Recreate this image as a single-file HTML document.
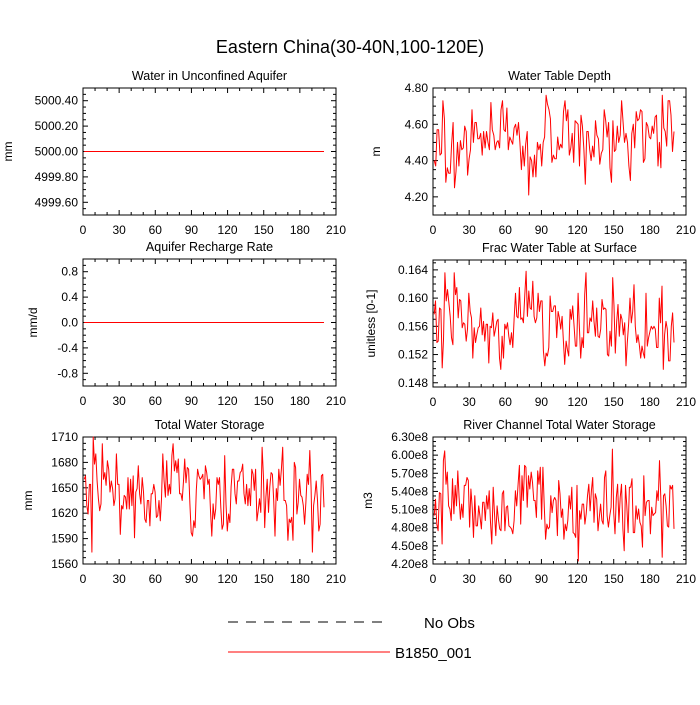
<!DOCTYPE html>
<html><head><meta charset="utf-8"><style>
body{margin:0;background:#fff;}
svg text{font-family:"Liberation Sans",sans-serif;fill:#000;}
</style></head><body>
<svg id="chart" width="700" height="700" viewBox="0 0 700 700" xmlns="http://www.w3.org/2000/svg">
<rect width="700" height="700" fill="#fff"/>
<text x="350" y="53" text-anchor="middle" font-size="18">Eastern China(30-40N,100-120E)</text>
<g>
<line x1="228" y1="622" x2="385" y2="622" stroke="#000" stroke-width="1" stroke-dasharray="10,8"/>
<text x="424" y="628" font-size="15">No Obs</text>
<line x1="228" y1="652" x2="390" y2="652" stroke="#f00" stroke-width="1"/>
<text x="395" y="658" font-size="15">B1850_001</text>
</g>
</svg>
<script>
const xTicks = [0,30,60,90,120,150,180,210];
const flatYears = [1,10,20,30,40,50,60,70,80,90,100,110,120,130,140,150,160,170,180,190,200];
const aquiferValues = [5000,5000,5000,5000,5000,5000,5000,5000,5000,5000,5000,5000,5000,5000,5000,5000,5000,5000,5000,5000,5000];
const rechargeValues = [0,0,0,0,0,0,0,0,0,0,0,0,0,0,0,0,0,0,0,0,0];
const wtdValues = [4.40,4.37,4.57,4.57,4.43,4.44,4.73,4.63,4.28,4.36,4.33,4.33,4.49,4.61,4.25,4.34,4.50,4.37,4.51,4.46,4.47,4.59,4.56,4.32,4.41,4.46,4.68,4.50,4.61,4.61,4.52,4.52,4.55,4.43,4.56,4.47,4.56,4.50,4.46,4.72,4.57,4.54,4.46,4.50,4.51,4.47,4.68,4.73,4.57,4.56,4.69,4.46,4.53,4.51,4.49,4.58,4.60,4.54,4.61,4.50,4.35,4.48,4.37,4.49,4.56,4.21,4.42,4.40,4.31,4.43,4.31,4.50,4.46,4.49,4.37,4.50,4.53,4.76,4.71,4.68,4.63,4.39,4.43,4.41,4.41,4.53,4.46,4.49,4.47,4.67,4.73,4.62,4.68,4.43,4.47,4.55,4.39,4.62,4.61,4.60,4.37,4.65,4.59,4.46,4.27,4.56,4.56,4.46,4.40,4.48,4.42,4.62,4.54,4.52,4.38,4.44,4.46,4.68,4.62,4.53,4.61,4.36,4.28,4.62,4.45,4.46,4.59,4.50,4.54,4.73,4.61,4.50,4.55,4.50,4.37,4.29,4.55,4.60,4.47,4.67,4.62,4.63,4.68,4.67,4.39,4.41,4.61,4.59,4.53,4.52,4.59,4.55,4.64,4.65,4.37,4.50,4.36,4.76,4.58,4.56,4.48,4.73,4.73,4.65,4.45,4.56];
const fracValues = [0.1577,0.1596,0.1537,0.1539,0.1586,0.1584,0.1501,0.1541,0.1636,0.1596,0.1612,0.1593,0.1574,0.1544,0.1534,0.1636,0.1605,0.1615,0.1572,0.1598,0.1596,0.1558,0.1565,0.1563,0.1539,0.1556,0.1607,0.1581,0.1572,0.1515,0.1558,0.1537,0.1548,0.1558,0.1560,0.1586,0.1548,0.1567,0.1539,0.1563,0.1563,0.1508,0.1560,0.1558,0.1579,0.1546,0.1556,0.1567,0.1570,0.1515,0.1499,0.1546,0.1515,0.1563,0.1556,0.1565,0.1546,0.1534,0.1551,0.1530,0.1570,0.1607,0.1574,0.1572,0.1615,0.1570,0.1572,0.1565,0.1605,0.1638,0.1574,0.1610,0.1586,0.1584,0.1624,0.1574,0.1565,0.1572,0.1607,0.1581,0.1596,0.1596,0.1525,0.1504,0.1522,0.1518,0.1530,0.1603,0.1581,0.1581,0.1589,0.1589,0.1544,0.1581,0.1572,0.1556,0.1574,0.1539,0.1506,0.1539,0.1527,0.1518,0.1584,0.1570,0.1589,0.1560,0.1532,0.1532,0.1607,0.1558,0.1515,0.1544,0.1530,0.1605,0.1636,0.1551,0.1551,0.1572,0.1567,0.1596,0.1567,0.1546,0.1586,0.1546,0.1544,0.1556,0.1598,0.1584,0.1586,0.1584,0.1520,0.1518,0.1553,0.1532,0.1629,0.1589,0.1522,0.1567,0.1591,0.1546,0.1577,0.1570,0.1548,0.1565,0.1504,0.1537,0.1565,0.1600,0.1565,0.1581,0.1619,0.1560,0.1537,0.1548,0.1534,0.1515,0.1532,0.1522,0.1515,0.1607,0.1532,0.1544,0.1553,0.1560,0.1556,0.1560,0.1556,0.1530,0.1530,0.1600,0.1565,0.1617,0.1499,0.1548,0.1567,0.1556,0.1511,0.1511,0.1560,0.1579,0.1537];
const twsValues = [1660,1664,1629,1619,1654,1654,1574,1710,1678,1690,1658,1637,1623,1631,1702,1660,1668,1653,1682,1672,1645,1658,1649,1629,1637,1690,1654,1654,1595,1629,1625,1641,1639,1625,1662,1625,1660,1629,1664,1591,1645,1649,1676,1643,1631,1662,1645,1613,1609,1635,1635,1605,1643,1643,1654,1645,1615,1617,1635,1611,1637,1690,1658,1639,1682,1641,1654,1643,1688,1702,1670,1682,1668,1684,1643,1643,1635,1658,1684,1656,1674,1672,1631,1597,1593,1611,1603,1647,1672,1664,1660,1662,1666,1637,1676,1668,1654,1660,1623,1593,1631,1613,1625,1662,1654,1662,1627,1601,1607,1688,1631,1599,1619,1609,1651,1672,1672,1643,1631,1658,1658,1668,1670,1678,1643,1631,1654,1629,1649,1629,1672,1666,1647,1672,1611,1623,1637,1621,1698,1664,1603,1639,1660,1621,1651,1668,1666,1635,1593,1649,1635,1672,1653,1672,1698,1635,1635,1629,1588,1613,1609,1615,1588,1680,1674,1619,1633,1660,1641,1639,1629,1607,1633,1666,1654,1694,1649,1574,1629,1641,1658,1635,1599,1607,1664,1666,1627];
const riverValues = [5.00,5.27,4.86,4.75,5.38,5.36,4.53,5.91,6.07,5.52,5.72,5.16,5.11,4.92,5.61,5.03,5.50,5.16,5.74,5.30,4.94,5.19,4.97,5.50,5.50,5.63,5.58,4.81,5.44,5.14,4.64,5.33,4.83,4.83,5.16,4.97,4.78,5.22,5.22,4.92,5.33,5.11,5.41,4.89,4.53,5.47,5.03,4.67,5.16,4.94,4.78,4.75,5.36,5.41,4.75,5.14,5.16,4.83,4.81,4.78,4.70,4.92,5.41,5.16,5.52,5.83,4.86,5.66,5.25,5.83,5.80,5.14,5.66,5.44,5.72,5.55,5.25,5.25,4.97,5.74,5.52,5.80,4.94,5.80,5.14,4.61,4.86,4.78,4.81,5.33,5.05,5.25,5.30,5.25,4.67,5.58,5.36,4.97,5.11,4.61,4.86,4.75,4.92,5.33,5.11,5.47,4.72,4.70,4.64,5.50,4.25,5.08,4.94,5.19,5.19,4.86,5.03,5.33,5.52,5.08,5.41,5.63,4.89,5.36,5.27,4.75,4.97,5.19,4.92,4.86,5.63,5.74,5.00,4.81,5.00,5.14,6.10,5.05,4.70,5.30,5.52,4.89,5.30,5.52,4.78,4.42,5.50,5.16,4.72,5.47,5.47,5.61,4.72,4.72,5.16,4.94,5.11,4.89,4.83,4.48,5.66,5.00,5.22,5.25,5.25,4.70,5.14,5.00,5.03,5.05,5.41,5.25,5.91,5.25,4.31,5.33,5.36,5.16,4.83,4.81,5.50,5.44,5.50,4.78];
const aquiferTicks = [4999.6,4999.8,5000.0,5000.2,5000.4];
const wtdTicks = [4.2,4.4,4.6,4.8];
const rechargeTicks = [-0.8,-0.4,0.0,0.4,0.8];
const fracTicks = [0.148,0.152,0.156,0.160,0.164];
const twsTicks = [1560,1590,1620,1650,1680,1710];
const riverTicks = [4.2,4.5,4.8,5.1,5.4,5.7,6.0,6.3];

const NS = 'http://www.w3.org/2000/svg';
const svg = document.getElementById('chart');
function mk(tag, attrs, parent){const e=document.createElementNS(NS,tag);for(const k in attrs)e.setAttribute(k,attrs[k]);(parent||svg).appendChild(e);return e;}
function evenYears(n){const a=[];for(let i=0;i<n;i++)a.push(1+i*199/(n-1));return a;}

function panel(cfg){
  const g=mk('g',{});
  
  
  const L=cfg.x, T=cfg.y, W=253, H=127;
  const sx=v=>L+v/210*W;
  const sy=v=>T+H-(v-cfg.min)/(cfg.max-cfg.min)*H;
  // x ticks
  for(let i=0;i<xTicks.length;i++){
    const v=xTicks[i], x=sx(v);
    mk('line',{x1:x,y1:T+H,x2:x,y2:T+H-5,stroke:'#000'},g);
    mk('line',{x1:x,y1:T,x2:x,y2:T+5,stroke:'#000'},g);
    const t=mk('text',{x:x,y:T+H+19,'text-anchor':'middle','font-size':12},g);
    t.textContent=v;
    
    
    if(i<xTicks.length-1){for(let m=1;m<3;m++){const xm=sx(v+m*10);
      mk('line',{x1:xm,y1:T+H,x2:xm,y2:T+H-3,stroke:'#000'},g);
      mk('line',{x1:xm,y1:T,x2:xm,y2:T+3,stroke:'#000'},g);}}
  }
  const tk=cfg.ticks, step=tk[1]-tk[0];
  for(let i=-1;i<tk.length;i++){
    const base=i<0?tk[0]-step:tk[i];
    for(let m=1;m<4;m++){const v=base+m*step/4; if(v<cfg.min||v>cfg.max)continue; const y=sy(v);
      mk('line',{x1:L,y1:y,x2:L+3,y2:y,stroke:'#000'},g);
      mk('line',{x1:L+W,y1:y,x2:L+W-3,y2:y,stroke:'#000'},g);}
  }
  for(const v of tk){
    const y=sy(v);
    mk('line',{x1:L,y1:y,x2:L+5,y2:y,stroke:'#000'},g);
    mk('line',{x1:L+W,y1:y,x2:L+W-5,y2:y,stroke:'#000'},g);
    const t=mk('text',{x:L-5,y:y+4,'text-anchor':'end','font-size':12},g);
    t.textContent=cfg.fmt(v);
    
    
  }
  mk('rect',{x:L,y:T,width:W,height:H,fill:'none',stroke:'#000','stroke-width':1},g);
  const tt=mk('text',{x:L+W/2,y:T-8,'text-anchor':'middle','font-size':12.5},g);
  tt.textContent=cfg.title;
  
  
  const yl=mk('text',{x:cfg.ylx,y:T+H/2,'text-anchor':'middle','font-size':12,transform:`rotate(-90 ${cfg.ylx} ${T+H/2})`},g);
  yl.textContent=cfg.ylabel;
  
  
  const yrs=cfg.years||evenYears(cfg.vals.length);
  const pts=cfg.vals.map((v,i)=>sx(yrs[i]).toFixed(1)+','+sy(v).toFixed(1)).join(' ');
  const pl=mk('polyline',{points:pts,fill:'none',stroke:'#f00','stroke-width':1,'stroke-linejoin':'round'},g);
  
  
}
panel({name:'panel-water-unconfined-aquifer',x:83,y:88,min:4999.5,max:5000.5,ticks:aquiferTicks,fmt:v=>v.toFixed(2),title:'Water in Unconfined Aquifer',ylabel:'mm',ylx:12,vals:aquiferValues,years:flatYears});
panel({name:'panel-water-table-depth',x:433,y:88,min:4.1,max:4.8,ticks:wtdTicks,fmt:v=>v.toFixed(2),title:'Water Table Depth',ylabel:'m',ylx:380,vals:wtdValues});
panel({name:'panel-aquifer-recharge-rate',x:83,y:259,min:-1,max:1,ticks:rechargeTicks,fmt:v=>v.toFixed(1),title:'Aquifer Recharge Rate',ylabel:'mm/d',ylx:37,vals:rechargeValues,years:flatYears});
panel({name:'panel-frac-water-table-surface',x:433,y:260,min:0.1474,max:0.1654,ticks:fracTicks,fmt:v=>v.toFixed(3),title:'Frac Water Table at Surface',ylabel:'unitless [0-1]',ylx:375,vals:fracValues});
panel({name:'panel-total-water-storage',x:83,y:437,min:1560,max:1710,ticks:twsTicks,fmt:v=>String(v),title:'Total Water Storage',ylabel:'mm',ylx:32,vals:twsValues});
panel({name:'panel-river-channel-storage',x:433,y:437,min:4.2,max:6.3,ticks:riverTicks,fmt:v=>v.toFixed(2)+'e8',title:'River Channel Total Water Storage',ylabel:'m3',ylx:372,vals:riverValues});
</script>
</body></html>
